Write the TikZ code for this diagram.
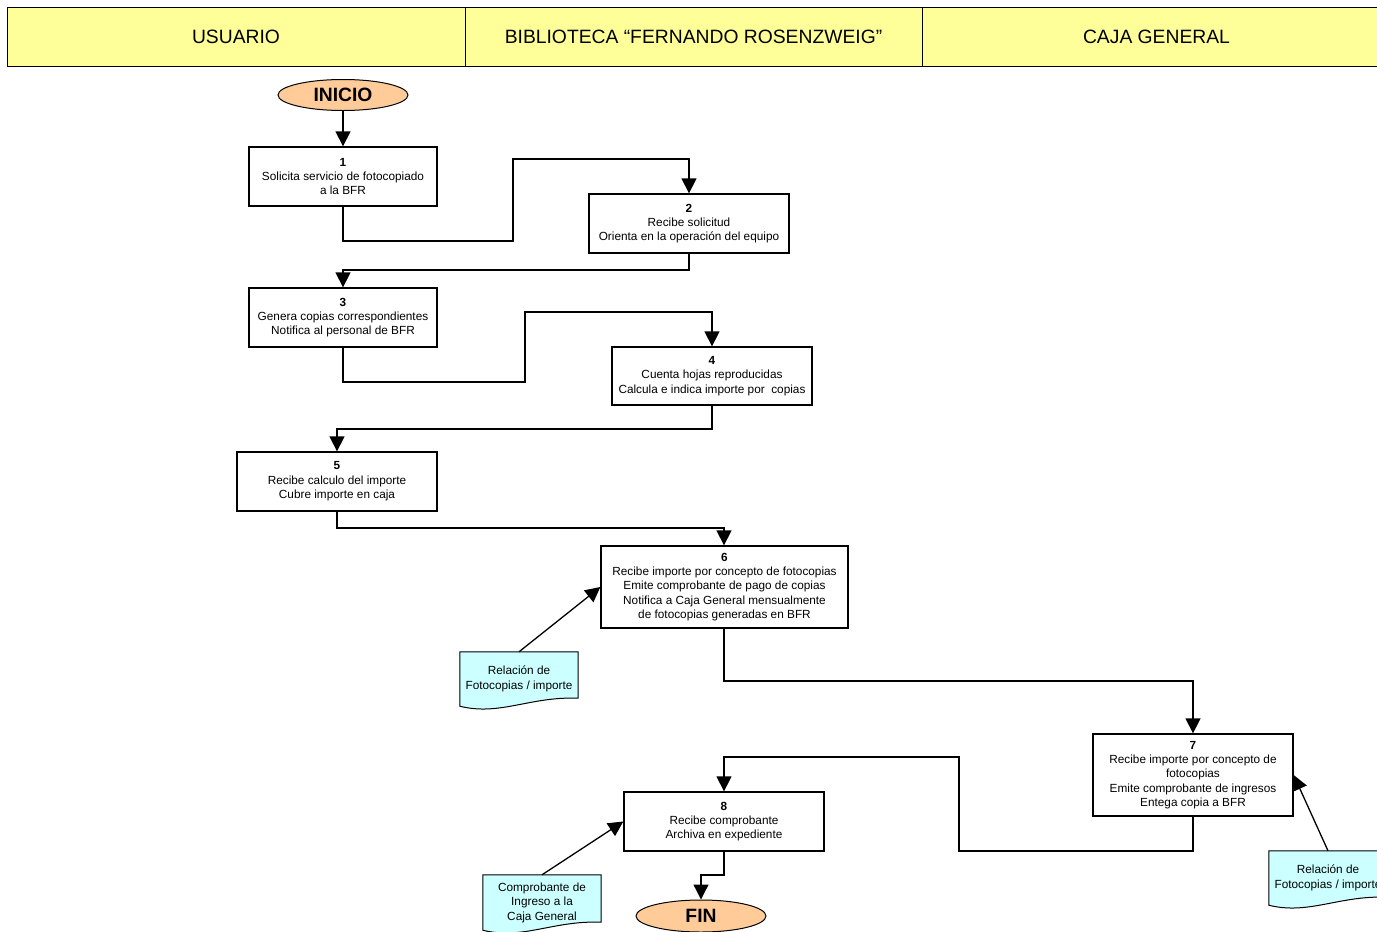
\documentclass[tikz,border=0pt]{standalone}
\usepackage{fontspec}
\setmainfont{Liberation Sans}
\usetikzlibrary{arrows.meta,shapes.geometric,backgrounds}
\definecolor{hdryellow}{HTML}{FFFF99}
\definecolor{termorange}{HTML}{FFCC99}
\definecolor{doccyan}{HTML}{CCFFFF}
\newcommand{\stepnum}[1]{{\bfseries #1}}
\begin{document}
\begin{tikzpicture}[x=1pt,y=-1pt,
 hdr/.style={draw,fill=hdryellow,line width=0.9pt,minimum height=59pt,inner sep=0pt,font=\fontsize{19.3}{22}\selectfont},
 term/.style={draw,ellipse,fill=termorange,line width=1pt,minimum width=130pt,minimum height=31pt,inner sep=0pt,font=\fontsize{19.3}{22}\selectfont\bfseries},
 stepbox/.style={draw,fill=white,line width=1.3pt,minimum width=200pt,minimum height=59pt,inner sep=0pt,align=center,font=\fontsize{11.8}{14.4}\selectfont},
 docnode/.style={minimum width=118pt,minimum height=54pt,inner sep=0pt,align=center,font=\fontsize{11.8}{14.5}\selectfont},
 docshape/.style={draw,fill=doccyan,line width=1pt},
 arr/.style={line width=1.3pt,-{Triangle[length=15pt,width=15pt]}},
]
\useasboundingbox (0,0) rectangle (1377,932);
% header
\node[hdr,minimum width=458pt] (h1) at (236,36.5) {USUARIO};
\node[hdr,minimum width=457pt] (h2) at (693.5,36.5) {BIBLIOTECA “FERNANDO ROSENZWEIG”};
\node[hdr,minimum width=469pt] (h3) at (1156.5,36.5) {CAJA GENERAL};
% terminals
\node[term] (ini) at (343,95) {INICIO};
\node[term,minimum height=32pt] (fin) at (701,916) {FIN};
% steps
\node[stepbox,minimum width=188pt] (b1) at (343,176.5) {\stepnum{1}\\Solicita servicio de fotocopiado\\a la BFR};
\node[stepbox] (b2) at (689,223.5) {\stepnum{2}\\Recibe solicitud\\Orienta en la operación del equipo};
\node[stepbox,minimum width=188pt] (b3) at (343,317.5) {\stepnum{3}\\Genera copias correspondientes\\Notifica al personal de BFR};
\node[stepbox,minimum height=58pt] (b4) at (712,376) {\stepnum{4}\\Cuenta hojas reproducidas\\Calcula e indica importe por\ \ copias};
\node[stepbox] (b5) at (337,481.5) {\stepnum{5}\\Recibe calculo del importe\\Cubre importe en caja};
\node[stepbox,minimum width=247pt,minimum height=82pt] (b6) at (724.5,587) {\stepnum{6}\\Recibe importe por concepto de fotocopias\\Emite comprobante de pago de copias\\Notifica a Caja General mensualmente\\de fotocopias generadas en BFR};
\node[stepbox,minimum height=82pt] (b7) at (1193,775) {\stepnum{7}\\Recibe importe por concepto de\\fotocopias\\Emite comprobante de ingresos\\Entega copia a BFR};
\node[stepbox] (b8) at (724,821.5) {\stepnum{8}\\Recibe comprobante\\Archiva en expediente};
% documents
\node[docnode] (d1) at (519,679) {Relación de\\Fotocopias / importe};
\node[docnode,minimum height=55pt] (d2) at (542,902.5) {Comprobante de\\Ingreso a la\\Caja General};
\node[docnode] (d3) at (1328,878) {Relación de\\Fotocopias / importe};
\begin{scope}[on background layer]
\foreach \d in {d1,d2,d3}{
 \draw[docshape] (\d.south west) -- (\d.north west) -- (\d.north east) -- ([yshift=8pt]\d.south east)
   .. controls ([xshift=-48pt,yshift=10pt]\d.south east) and ([xshift=40pt,yshift=-10pt]\d.south west) .. (\d.south west) -- cycle;
}
\end{scope}
% connectors
\draw[arr] (ini) -- (b1);
\draw[arr] (b1.south) -- (343,241) -- (513,241) -- (513,159) -- (689,159) -- (b2.north);
\draw[arr] (b2.south) -- (689,270) -- (343,270) -- (b3.north);
\draw[arr] (b3.south) -- (343,382) -- (525,382) -- (525,312) -- (712,312) -- (b4.north);
\draw[arr] (b4.south) -- (712,429) -- (337,429) -- (b5.north);
\draw[arr] (b5.south) -- (337,528) -- (724,528) -- (b6.north -| 724,0);
\draw[arr] (b6.south -| 724,0) -- (724,681) -- (1193,681) -- (b7.north);
\draw[arr] (b7.south) -- (1193,851) -- (959,851) -- (959,757) -- (724,757) -- (b8.north);
\draw[arr] (b8.south) -- (724,875) -- (701,875) -- (fin.north);
\draw[arr] (d1.north) -- (b6.west);
\draw[arr] (d2.north) -- (b8.west);
\draw[arr] (d3.north) -- (b7.east);
\end{tikzpicture}
\end{document}
